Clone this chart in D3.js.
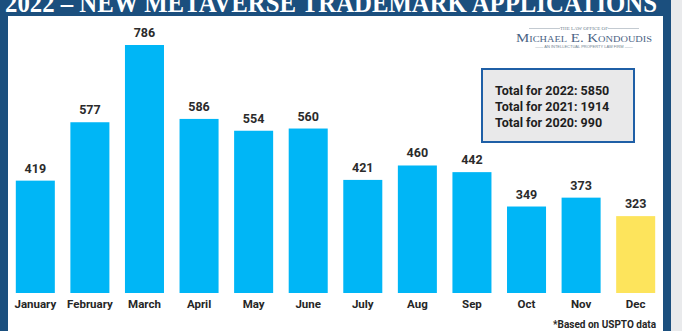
<!DOCTYPE html>
<html>
<head>
<meta charset="utf-8">
<script src="https://cdn.jsdelivr.net/npm/d3@7"></script>
<style>
  body { margin: 0; background: #ffffff; }
  svg { display: block; }
</style>
</head>
<body>
<div id="chart"></div>
<script>
// monthly metaverse trademark filings, 2022
var months = ["January", "February", "March", "April", "May", "June", "July", "Aug", "Sep", "Oct", "Nov", "Dec"];
var applications = [419, 577, 786, 586, 554, 560, 421, 460, 442, 349, 373, 323];
var totalLines = ["Total for 2022: 5850", "Total for 2021: 1914", "Total for 2020: 990"];
var titleText = "2022 \u2013 NEW METAVERSE TRADEMARK APPLICATIONS";

var width = 682;
var height = 331;

var frameBlue = "#1b4f7e";
var barBlue = "#00b6f6";
var barYellow = "#fde45c";

var svg = d3.select("#chart").append("svg")
    .attr("width", width)
    .attr("height", height);

// shadow on the right, outer frame, white panel
svg.append("rect").attr("x", 0).attr("y", 0).attr("width", width).attr("height", height).attr("fill", "#e9eaec");
svg.append("rect").attr("x", 0).attr("y", 0).attr("width", 671).attr("height", height).attr("fill", frameBlue);
svg.append("rect").attr("x", 8).attr("y", 16).attr("width", 655).attr("height", height - 16).attr("fill", "#ffffff");

// title, clipped at the top like the source
svg.append("text")
    .attr("x", 5)
    .attr("y", 12)
    .attr("textLength", 652)
    .attr("lengthAdjust", "spacingAndGlyphs")
    .style("font-family", "'Liberation Serif', serif")
    .style("font-weight", "bold")
    .style("font-size", "28px")
    .style("fill", "#ffffff")
    .text(titleText);

var x = d3.scaleBand()
    .domain(months)
    .range([8, 663])
    .paddingInner(0.285)
    .paddingOuter(0.143);

var y = d3.scaleLinear()
    .domain([115, 786])
    .range([293, 45]);

var data = months.map(function (m, i) {
    return { month: m, value: applications[i] };
});

svg.selectAll("rect.bar")
    .data(data)
    .enter()
    .append("rect")
    .attr("class", "bar")
    .attr("x", d => x(d.month))
    .attr("y", d => y(d.value))
    .attr("width", x.bandwidth())
    .attr("height", d => y.range()[0] - y(d.value))
    .attr("fill", (d, i) => i == months.length - 1 ? barYellow : barBlue);

svg.selectAll("text.value")
    .data(data)
    .enter()
    .append("text")
    .attr("class", "value")
    .attr("x", d => x(d.month) + x.bandwidth() / 2)
    .attr("y", d => y(d.value) - 8)
    .attr("text-anchor", "middle")
    .style("font-family", "Roboto, sans-serif")
    .style("font-weight", "bold")
    .style("font-size", "12.5px")
    .style("fill", "#2b2b2b")
    .text(d => d.value);

// month labels via a bottom axis with no line/ticks
var xAxis = svg.append("g")
    .attr("transform", "translate(0,296)")
    .call(d3.axisBottom(x).tickSize(0).tickPadding(4));
xAxis.select(".domain").remove();
xAxis.selectAll("text")
    .style("font-family", "Roboto, sans-serif")
    .style("font-weight", "bold")
    .style("font-size", "11.5px")
    .style("fill", "#262626");

svg.append("text")
    .attr("x", 656)
    .attr("y", 328)
    .attr("text-anchor", "end")
    .style("font-family", "Roboto, sans-serif")
    .style("font-weight", "bold")
    .style("font-size", "10px")
    .style("fill", "#262626")
    .text("*Based on USPTO data");

// law office logo
var logo = svg.append("g").attr("transform", "translate(584,0)");
logo.append("text")
    .attr("x", 0).attr("y", 30)
    .attr("text-anchor", "middle")
    .style("font-family", "'Liberation Serif', serif")
    .style("font-size", "5px")
    .style("fill", "#6f7f90")
    .text("THE LAW OFFICE OF");
logo.append("line").attr("x1", -55).attr("x2", -24).attr("y1", 28.5).attr("y2", 28.5).attr("stroke", "#9aa6b2").attr("stroke-width", 0.6);
logo.append("line").attr("x1", 24).attr("x2", 55).attr("y1", 28.5).attr("y2", 28.5).attr("stroke", "#9aa6b2").attr("stroke-width", 0.6);
logo.append("text")
    .attr("x", 0).attr("y", 42)
    .attr("text-anchor", "middle")
    .attr("textLength", 136)
    .attr("lengthAdjust", "spacingAndGlyphs")
    .style("font-family", "'Liberation Serif', serif")
    .style("font-size", "13px")
    .style("font-variant", "small-caps")
    .style("fill", "#4a6283")
    .text("Michael E. Kondoudis");
logo.append("text")
    .attr("x", 0).attr("y", 48)
    .attr("text-anchor", "middle")
    .style("font-family", "'Liberation Sans', sans-serif")
    .style("font-size", "4px")
    .style("fill", "#6f7f90")
    .text("\u2014\u2014 AN INTELLECTUAL PROPERTY LAW FIRM \u2014\u2014");

// totals box
svg.append("rect")
    .attr("x", 482).attr("y", 69)
    .attr("width", 152).attr("height", 73)
    .attr("fill", "#e9e9ea")
    .attr("stroke", "#1f5fa6")
    .attr("stroke-width", 2);

svg.selectAll("text.total")
    .data(totalLines)
    .enter()
    .append("text")
    .attr("class", "total")
    .attr("x", 495)
    .attr("y", (d, i) => 95 + i * 16)
    .style("font-family", "Roboto, sans-serif")
    .style("font-weight", "bold")
    .style("font-size", "12.5px")
    .style("fill", "#1e1e1e")
    .text(d => d);
</script>
</body>
</html>
